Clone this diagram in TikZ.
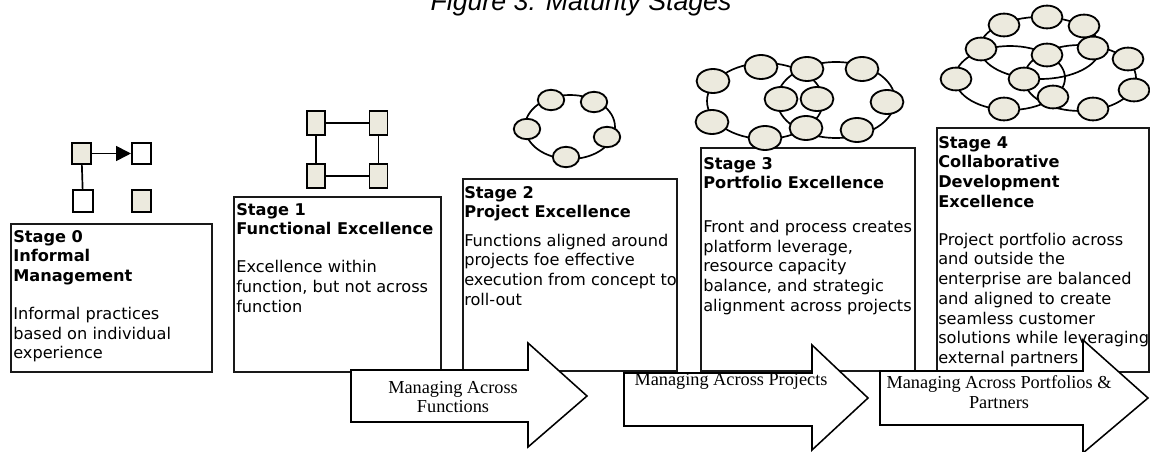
\documentclass[tikz,border=0pt]{standalone}
\usepackage{fontspec}
\setmainfont{DejaVu Sans}
\newfontfamily\arrowfont{Liberation Serif}
\newfontfamily\captionfont{Liberation Sans}
\usepackage{tikz}
\usetikzlibrary{shapes.geometric, arrows.meta, positioning}
\definecolor{nodebeige}{RGB}{236,234,222}
\definecolor{outlinegray}{RGB}{25,25,25}

\tikzset{
    stagebox/.style={draw=outlinegray, line width=1.1pt},
    stagetext/.style={anchor=north west, inner sep=0pt, align=left, font=\fontsize{11.5}{14}\selectfont},
    bigarrow/.style={draw=black, fill=white, line width=1.1pt, line join=miter},
    arrowtext/.style={align=center, inner sep=0pt, font=\arrowfont\fontsize{13}{14}\selectfont},
    sqfull/.style={draw, line width=1.3pt, fill=nodebeige, minimum width=0.48cm, minimum height=0.53cm, inner sep=0pt},
    sqempty/.style={sqfull, fill=white},
    sqtall/.style={sqfull, minimum width=0.45cm, minimum height=0.6cm},
    ring/.style={draw, line width=1.2pt},
    link/.style={draw, line width=1.2pt},
    blob/.style={ellipse, draw, line width=1.3pt, fill=nodebeige, inner sep=0pt, minimum width=0.66cm, minimum height=0.51cm},
    bigblob/.style={blob, minimum width=0.82cm, minimum height=0.6cm},
    midblob/.style={blob, minimum width=0.77cm, minimum height=0.57cm}
}

\begin{document}
\begin{tikzpicture}[x=0.025cm, y=-0.025cm]
    \useasboundingbox (0,0) rectangle (1150,452);

    % Caption (cut at the top edge)
    \node[anchor=base, inner sep=0pt, font=\captionfont\itshape\fontsize{19}{22}\selectfont] (caption) at (581,11) {Figure 3: Maturity Stages};

    % Stage boxes
    \draw[stagebox] (11,224) rectangle (212,372);
    \draw[stagebox] (234,197) rectangle (441,372);
    \draw[stagebox] (463,179) rectangle (677,371);
    \draw[stagebox] (701,148) rectangle (915,371);
    \draw[stagebox] (937,128) rectangle (1149,372);

    % Stage 0 icon
    \node[sqfull] (z1) at (81.5,153.5) {};
    \node[sqempty] (z2) at (141.5,153.5) {};
    \node[sqempty] (z3) at (83,201) {};
    \node[sqfull] (z4) at (141.5,201) {};
    \draw[link, -{Triangle[length=10.5pt, width=10.5pt]}] (z1) -- (z2);
    \draw[link] (z1) -- (z3);

    % Stage 1 icon
    \node[sqtall] (f1) at (316,123) {};
    \node[sqtall] (f2) at (378.5,123) {};
    \node[sqtall] (f3) at (316,176) {};
    \node[sqtall] (f4) at (378.5,176) {};
    \draw[link] (f1) -- (f2) (f1) -- (f3) (f2) -- (f4) (f3) -- (f4);

    % Stage 2 icon
    \draw[ring] (570,127) ellipse [x radius=45, y radius=32];
    \foreach \px/\py [count=\k] in {551/100, 594/102, 527/129, 607/137, 566/157}
        \node[blob] (p\k) at (\px,\py) {};

    % Stage 3 icon
    \draw[ring] (765,101) ellipse [x radius=58, y radius=38];
    \draw[ring] (836,100) ellipse [x radius=59, y radius=38];
    \foreach \px/\py [count=\k] in {713/81, 761/67, 807/69, 862/69, 781/99, 817/99, 887/102, 712/122, 765/138, 806/128, 857/130}
        \node[bigblob] (q\k) at (\px,\py) {};

    % Stage 4 icon
    \draw[ring] (1040,48) ellipse [x radius=60, y radius=31];
    \draw[ring] (1010,78) ellipse [x radius=55, y radius=32];
    \draw[ring] (1080,78) ellipse [x radius=56, y radius=33];
    \foreach \px/\py [count=\k] in {1004/25, 1047/17, 1084/26, 981/49, 1047/55, 1093/48, 1128/59, 956/79, 1024/79, 1134/90, 1053/97, 1004/109, 1093/109}
        \node[midblob] (r\k) at (\px,\py) {};

    % Block arrows
    \draw[bigarrow] (351,370) -- (528,370) -- (528,343) -- (587,396) -- (528,447) -- (528,422) -- (351,422) -- cycle;
    \draw[bigarrow] (624,373) -- (812,373) -- (812,345) -- (868,398) -- (812,450) -- (812,426) -- (624,426) -- cycle;
    \draw[bigarrow] (880,371) -- (1083,371) -- (1083,340) -- (1148,398) -- (1083,453) -- (1083,425) -- (880,425) -- cycle;

    % Stage texts
    \node[stagetext] (stage0) at (13,230) {\textbf{Stage 0}\\ \textbf{Informal}\\ \textbf{Management}\\[13pt] Informal practices\\ based on individual\\ experience};
    \node[stagetext] (stage1) at (236,203) {\textbf{Stage 1}\\ \textbf{Functional Excellence}\\[13pt] Excellence within\\ function, but not across\\ function};
    \node[stagetext] (stage2) at (464,186) {\textbf{Stage 2}\\ \textbf{Project Excellence}\\[6pt] Functions aligned around\\ projects foe effective\\ execution from concept to\\ roll-out};
    \node[stagetext] (stage3) at (703,157) {\textbf{Stage 3}\\ \textbf{Portfolio Excellence}\\[17pt] Front and process creates\\ platform leverage,\\ resource capacity\\ balance, and strategic\\ alignment across projects};
    \node[stagetext] (stage4) at (938,136) {\textbf{Stage 4}\\ \textbf{Collaborative}\\ \textbf{Development}\\ \textbf{Excellence}\\[13pt] Project portfolio across\\ and outside the\\ enterprise are balanced\\ and aligned to create\\ seamless customer\\ solutions while leveraging\\ external partners};

    % Arrow labels
    \node[arrowtext] (across1) at (453,397) {Managing Across\\ Functions};
    \node[arrowtext] (across2) at (731,381) {Managing Across Projects};
    \node[arrowtext] (across3) at (999,392) {Managing Across Portfolios \&\\ Partners};
\end{tikzpicture}
\end{document}
